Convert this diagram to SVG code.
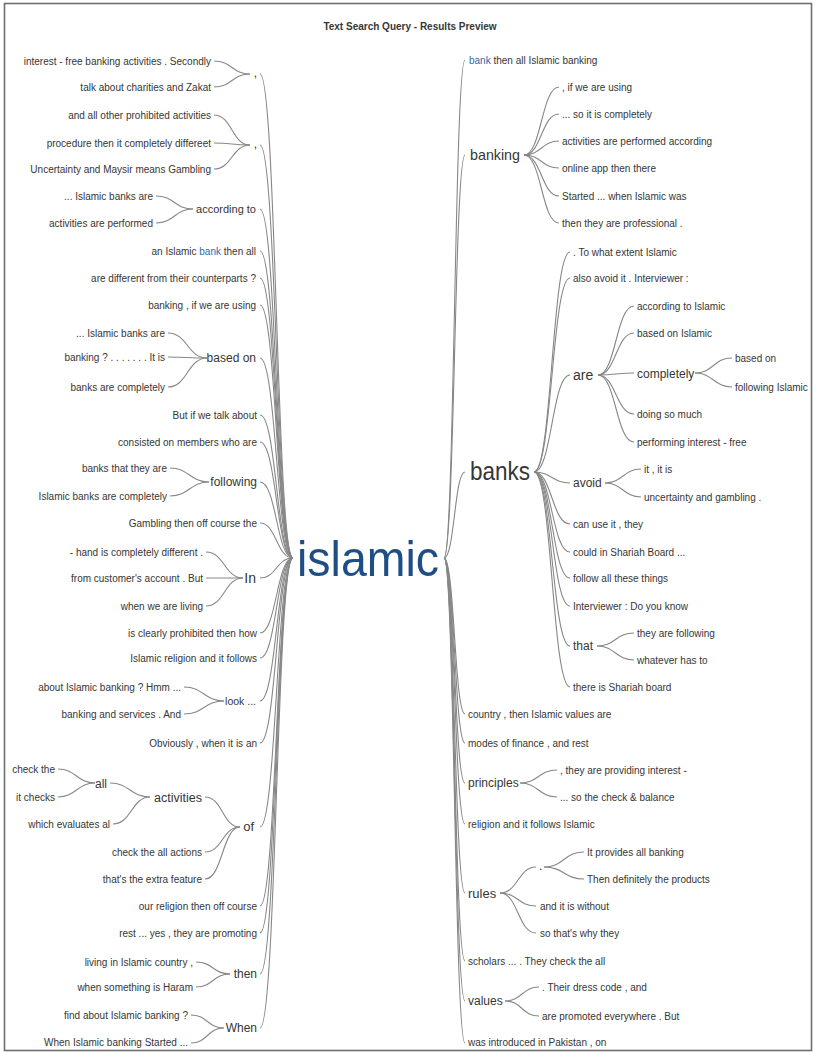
<svg xmlns="http://www.w3.org/2000/svg" width="821" height="1053" viewBox="0 0 821 1053">
<style>
text{font-family:"Liberation Sans",Arial,sans-serif;fill:#363636}
.lf{font-size:10px}
.md{font-size:12px}
.l{text-anchor:end}
.hl{fill:#2f6aa8}
.c path{fill:none;stroke:#878787;stroke-width:1.1}
</style>
<rect x="0" y="0" width="821" height="1053" fill="#ffffff"/>
<rect x="4.5" y="3.5" width="807" height="1047" fill="#ffffff" stroke="#6e6e6e" stroke-width="1.6"/>
<text x="410" y="30" text-anchor="middle" font-size="10" font-weight="bold" fill="#222">Text Search Query - Results Preview</text>
<g class="c" id="connectors">
<path d="M260 74 C276.5 74 276.5 558 293 558"/>
<path d="M260 145 C276.5 145 276.5 558 293 558"/>
<path d="M260 209 C276.5 209 276.5 558 293 558"/>
<path d="M260 251 C276.5 251 276.5 558 293 558"/>
<path d="M260 278 C276.5 278 276.5 558 293 558"/>
<path d="M260 305 C276.5 305 276.5 558 293 558"/>
<path d="M260 358 C276.5 358 276.5 558 293 558"/>
<path d="M260 415 C276.5 415 276.5 558 293 558"/>
<path d="M260 442 C276.5 442 276.5 558 293 558"/>
<path d="M260 482 C276.5 482 276.5 558 293 558"/>
<path d="M260 523 C276.5 523 276.5 558 293 558"/>
<path d="M260 578 C276.5 578 276.5 558 293 558"/>
<path d="M260 633 C276.5 633 276.5 558 293 558"/>
<path d="M260 658 C276.5 658 276.5 558 293 558"/>
<path d="M260 701 C276.5 701 276.5 558 293 558"/>
<path d="M260 743 C276.5 743 276.5 558 293 558"/>
<path d="M260 827 C276.5 827 276.5 558 293 558"/>
<path d="M260 906 C276.5 906 276.5 558 293 558"/>
<path d="M260 933 C276.5 933 276.5 558 293 558"/>
<path d="M260 974 C276.5 974 276.5 558 293 558"/>
<path d="M260 1028 C276.5 1028 276.5 558 293 558"/>
<path d="M444 558 C454.5 558 454.5 60 465 60"/>
<path d="M444 558 C454.5 558 454.5 155 465 155"/>
<path d="M444 558 C454.5 558 454.5 472 465 472"/>
<path d="M444 558 C454.5 558 454.5 714 465 714"/>
<path d="M444 558 C454.5 558 454.5 743 465 743"/>
<path d="M444 558 C454.5 558 454.5 783 465 783"/>
<path d="M444 558 C454.5 558 454.5 824 465 824"/>
<path d="M444 558 C454.5 558 454.5 893 465 893"/>
<path d="M444 558 C454.5 558 454.5 961 465 961"/>
<path d="M444 558 C454.5 558 454.5 1001 465 1001"/>
<path d="M444 558 C454.5 558 454.5 1043 465 1043"/>
<path d="M214 61 C232 61 232 74 250 74"/>
<path d="M214 87 C232 87 232 74 250 74"/>
<path d="M214 115 C232 115 232 145 250 145"/>
<path d="M214 143 C232 143 232 145 250 145"/>
<path d="M214 169 C232 169 232 145 250 145"/>
<path d="M156 196 C174.5 196 174.5 209 193 209"/>
<path d="M156 223 C174.5 223 174.5 209 193 209"/>
<path d="M168 333 C187.5 333 187.5 358 207 358"/>
<path d="M168 357 C187.5 357 187.5 358 207 358"/>
<path d="M168 387 C187.5 387 187.5 358 207 358"/>
<path d="M170 468 C189.5 468 189.5 482 209 482"/>
<path d="M170 496 C189.5 496 189.5 482 209 482"/>
<path d="M206 552 C224.5 552 224.5 578 243 578"/>
<path d="M206 578 C224.5 578 224.5 578 243 578"/>
<path d="M206 606 C224.5 606 224.5 578 243 578"/>
<path d="M184 687 C204 687 204 701 224 701"/>
<path d="M184 714 C204 714 204 701 224 701"/>
<path d="M205 797 C222.5 797 222.5 827 240 827"/>
<path d="M205 852 C222.5 852 222.5 827 240 827"/>
<path d="M205 879 C222.5 879 222.5 827 240 827"/>
<path d="M110 783 C130 783 130 797 150 797"/>
<path d="M113 824 C131.5 824 131.5 797 150 797"/>
<path d="M58 769 C76.5 769 76.5 783 95 783"/>
<path d="M58 797 C76.5 797 76.5 783 95 783"/>
<path d="M196 962 C213 962 213 974 230 974"/>
<path d="M196 987 C213 987 213 974 230 974"/>
<path d="M191 1015 C207.5 1015 207.5 1028 224 1028"/>
<path d="M191 1043 C207.5 1043 207.5 1028 224 1028"/>
<path d="M524 155 C541.5 155 541.5 87 559 87"/>
<path d="M524 155 C541.5 155 541.5 114 559 114"/>
<path d="M524 155 C541.5 155 541.5 141 559 141"/>
<path d="M524 155 C541.5 155 541.5 168 559 168"/>
<path d="M524 155 C541.5 155 541.5 196 559 196"/>
<path d="M524 155 C541.5 155 541.5 223 559 223"/>
<path d="M534 472 C552 472 552 252 570 252"/>
<path d="M534 472 C552 472 552 278 570 278"/>
<path d="M534 472 C552 472 552 375 570 375"/>
<path d="M534 472 C552 472 552 483 570 483"/>
<path d="M534 472 C552 472 552 524 570 524"/>
<path d="M534 472 C552 472 552 552 570 552"/>
<path d="M534 472 C552 472 552 578 570 578"/>
<path d="M534 472 C552 472 552 606 570 606"/>
<path d="M534 472 C552 472 552 646 570 646"/>
<path d="M534 472 C552 472 552 687 570 687"/>
<path d="M598 375 C616 375 616 306 634 306"/>
<path d="M598 375 C616 375 616 333 634 333"/>
<path d="M598 375 C616 375 616 373 634 373"/>
<path d="M598 375 C616 375 616 414 634 414"/>
<path d="M598 375 C616 375 616 442 634 442"/>
<path d="M695 373 C713.5 373 713.5 358 732 358"/>
<path d="M695 373 C713.5 373 713.5 387 732 387"/>
<path d="M605 483 C623 483 623 469 641 469"/>
<path d="M605 483 C623 483 623 497 641 497"/>
<path d="M597 646 C615.5 646 615.5 633 634 633"/>
<path d="M597 646 C615.5 646 615.5 660 634 660"/>
<path d="M520 783 C538.5 783 538.5 770 557 770"/>
<path d="M520 783 C538.5 783 538.5 797 557 797"/>
<path d="M500 893 C518 893 518 867 536 867"/>
<path d="M500 893 C518 893 518 906 536 906"/>
<path d="M500 893 C518 893 518 933 536 933"/>
<path d="M544 867 C564 867 564 852 584 852"/>
<path d="M544 867 C564 867 564 879 584 879"/>
<path d="M505 1001 C522 1001 522 987 539 987"/>
<path d="M505 1001 C522 1001 522 1016 539 1016"/>
</g>
<g id="root"><text x="297" y="576" font-size="50" textLength="142" lengthAdjust="spacingAndGlyphs" style="fill:#1f4e85">islamic</text></g>
<g id="left-comma1"><text class="md l" x="257" y="77">,</text>
<text class="lf l" x="211" y="64.5">interest - free banking activities . Secondly</text>
<text class="lf l" x="211" y="90.5">talk about charities and Zakat</text></g>
<g id="left-comma2"><text class="md l" x="257" y="148">,</text>
<text class="lf l" x="211" y="118.5">and all other prohibited activities</text>
<text class="lf l" x="211" y="146.5">procedure then it completely differeet</text>
<text class="lf l" x="211" y="172.5">Uncertainty and Maysir means Gambling</text></g>
<g id="left-according"><text class="l" x="256" y="213" font-size="11">according to</text>
<text class="lf l" x="153" y="199.5">... Islamic banks are</text>
<text class="lf l" x="153" y="226.5">activities are performed</text></g>
<g id="left-an"><text class="lf l" x="256" y="254.5">an Islamic <tspan class="hl">bank</tspan> then all</text></g>
<g id="left-are"><text class="lf l" x="256" y="281.5">are different from their counterparts ?</text></g>
<g id="left-banking"><text class="lf l" x="256" y="308.5">banking , if we are using</text></g>
<g id="left-based"><text class="md l" x="256" y="362">based on</text>
<text class="lf l" x="165" y="336.5">... Islamic banks are</text>
<text class="lf l" x="165" y="360.5">banking ? . . . . . . . It is</text>
<text class="lf l" x="165" y="390.5">banks are completely</text></g>
<g id="left-but"><text class="lf l" x="257" y="418.5">But if we talk about</text></g>
<g id="left-consisted"><text class="lf l" x="257" y="445.5">consisted on members who are</text></g>
<g id="left-following"><text class="md l" x="257" y="486">following</text>
<text class="lf l" x="167" y="471.5">banks that they are</text>
<text class="lf l" x="167" y="499.5">Islamic banks are completely</text></g>
<g id="left-gambling"><text class="lf l" x="257" y="526.5">Gambling then off course the</text></g>
<g id="left-in"><text class="l" x="256" y="583" font-size="14">In</text>
<text class="lf l" x="203" y="555.5">- hand is completely different .</text>
<text class="lf l" x="203" y="581.5">from customer's account . But</text>
<text class="lf l" x="203" y="609.5">when we are living</text></g>
<g id="left-clearly"><text class="lf l" x="257" y="636.5">is clearly prohibited then how</text></g>
<g id="left-religion"><text class="lf l" x="257" y="661.5">Islamic religion and it follows</text></g>
<g id="left-look"><text class="l" x="256" y="705" font-size="10.5">look ...</text>
<text class="lf l" x="181" y="690.5">about Islamic banking ? Hmm ...</text>
<text class="lf l" x="181" y="717.5">banking and services . And</text></g>
<g id="left-obviously"><text class="lf l" x="257" y="746.5">Obviously , when it is an</text></g>
<g id="left-of"><text class="l" x="254" y="831" font-size="13">of</text>
<text class="l" x="202" y="801.5" font-size="12.5">activities</text>
<text class="md l" x="107" y="787.5">all</text>
<text class="lf l" x="55" y="772.5">check the</text>
<text class="lf l" x="55" y="800.5">it checks</text>
<text class="lf l" x="110" y="827.5">which evaluates al</text>
<text class="lf l" x="202" y="855.5">check the all actions</text>
<text class="lf l" x="202" y="882.5">that's the extra feature</text></g>
<g id="left-our"><text class="lf l" x="257" y="909.5">our religion then off course</text></g>
<g id="left-rest"><text class="lf l" x="257" y="936.5">rest ... yes , they are promoting</text></g>
<g id="left-then"><text class="md l" x="257" y="978">then</text>
<text class="lf l" x="193" y="965.5">living in Islamic country ,</text>
<text class="lf l" x="193" y="990.5">when something is Haram</text></g>
<g id="left-when"><text class="md l" x="257" y="1032">When</text>
<text class="lf l" x="188" y="1018.5">find about Islamic banking ?</text>
<text class="lf l" x="188" y="1046">When Islamic banking Started ...</text></g>
<g id="right-bank"><text class="lf" x="469" y="63.5"><tspan class="hl">bank</tspan> then all Islamic banking</text></g>
<g id="right-banking"><text x="470" y="160" font-size="15" textLength="50" lengthAdjust="spacingAndGlyphs">banking</text>
<text class="lf" x="562" y="90.5">, if we are using</text>
<text class="lf" x="562" y="117.5">... so it is completely</text>
<text class="lf" x="562" y="144.5">activities are performed according</text>
<text class="lf" x="562" y="171.5">online app then there</text>
<text class="lf" x="562" y="199.5">Started ... when Islamic was</text>
<text class="lf" x="562" y="226.5">then they are professional .</text></g>
<g id="right-banks"><text x="470" y="480" font-size="25" textLength="60" lengthAdjust="spacingAndGlyphs">banks</text>
<text class="lf" x="573" y="255.5">. To what extent Islamic</text>
<text class="lf" x="573" y="281.5">also avoid it . Interviewer :</text>
<text class="lf" x="573" y="527.5">can use it , they</text>
<text class="lf" x="573" y="555.5">could in Shariah Board ...</text>
<text class="lf" x="573" y="581.5">follow all these things</text>
<text class="lf" x="573" y="609.5">Interviewer : Do you know</text>
<text class="lf" x="573" y="690.5">there is Shariah board</text></g>
<g id="right-are"><text x="573" y="380" font-size="14">are</text>
<text class="lf" x="637" y="309.5">according to Islamic</text>
<text class="lf" x="637" y="336.5">based on Islamic</text>
<text class="lf" x="637" y="417.5">doing so much</text>
<text class="lf" x="637" y="445.5">performing interest - free</text></g>
<g id="right-completely"><text class="md" x="637" y="377.5">completely</text>
<text class="lf" x="735" y="361.5">based on</text>
<text class="lf" x="735" y="390.5">following Islamic</text></g>
<g id="right-avoid"><text class="md" x="573" y="487">avoid</text>
<text class="lf" x="644" y="472.5">it , it is</text>
<text class="lf" x="644" y="500.5">uncertainty and gambling .</text></g>
<g id="right-that"><text class="md" x="573" y="650">that</text>
<text class="lf" x="637" y="636.5">they are following</text>
<text class="lf" x="637" y="663.5">whatever has to</text></g>
<g id="right-country"><text class="lf" x="468" y="717.5">country , then Islamic values are</text></g>
<g id="right-modes"><text class="lf" x="468" y="746.5">modes of finance , and rest</text></g>
<g id="right-principles"><text class="md" x="468" y="787">principles</text>
<text class="lf" x="560" y="773.5">, they are providing interest -</text>
<text class="lf" x="560" y="800.5">... so the check &amp; balance</text></g>
<g id="right-religion"><text class="lf" x="468" y="827.5">religion and it follows Islamic</text></g>
<g id="right-rules"><text x="468" y="898" font-size="13">rules</text>
<text class="md" x="539" y="870">.</text>
<text class="lf" x="587" y="855.5">It provides all banking</text>
<text class="lf" x="587" y="882.5">Then definitely the products</text>
<text class="lf" x="540" y="909.5">and it is without</text>
<text class="lf" x="540" y="936.5">so that's why they</text></g>
<g id="right-scholars"><text class="lf" x="468" y="964.5">scholars ... . They check the all</text></g>
<g id="right-values"><text class="md" x="468" y="1005">values</text>
<text class="lf" x="542" y="990.5">. Their dress code , and</text>
<text class="lf" x="542" y="1019.5">are promoted everywhere . But</text></g>
<g id="right-was"><text class="lf" x="468" y="1046">was introduced in Pakistan , on</text></g>
</svg>
